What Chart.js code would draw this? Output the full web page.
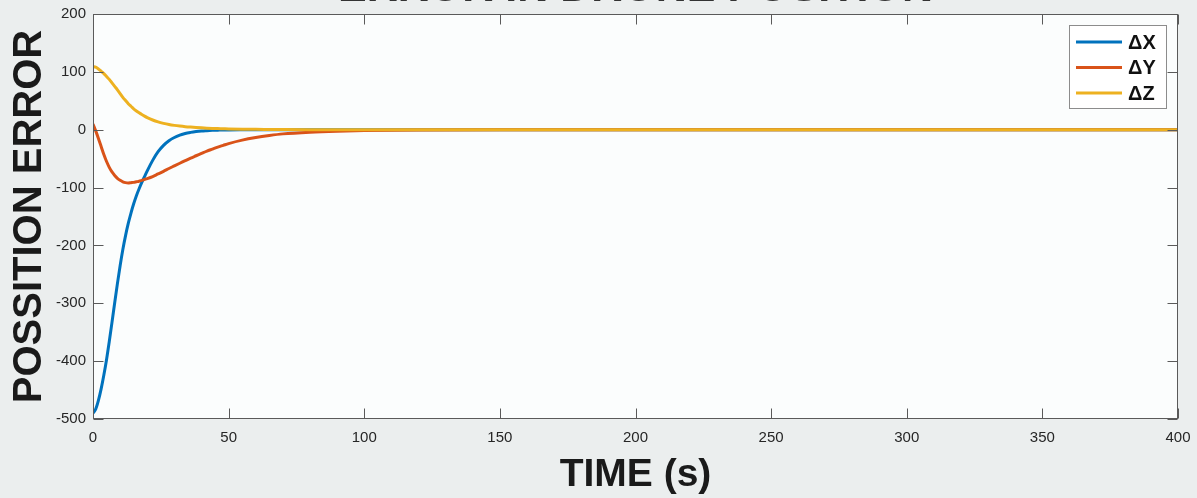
<!DOCTYPE html>
<html>
<head>
<meta charset="utf-8">
<script src="https://cdn.jsdelivr.net/npm/chart.js@4"></script>
<style>
  body { margin: 0; background: #ebeeee; }
  #wrap { width: 1197px; height: 498px; }
</style>
</head>
<body>
<div id="wrap"><canvas id="c" width="1197" height="498"></canvas></div>
<script>
// tiempos de muestreo (s)
const TIEMPO = [0, 1, 2, 3, 4, 5, 6, 7, 8, 9, 10, 11, 12, 13, 14, 15, 16, 17, 18, 19, 20,
  22, 24, 26, 28, 30, 32, 34, 36, 38, 40, 42, 44, 46, 48, 50,
  55, 60, 65, 70, 80, 90, 100, 120, 150, 200, 250, 300, 350, 400]
const ERR_X = [-490, -483, -468, -448, -424, -397, -366, -333, -299, -266, -235, -207, -183, -162, -144, -128, -114, -102, -91, -81, -71,
  -53, -38, -27, -19, -13.5, -9.5, -6.5, -4.6, -3.2, -2.2, -1.6, -1.1, -0.8, -0.5, -0.3,
  -0.1, 0, 0, 0, 0, 0, 0, 0, 0, 0, 0, 0, 0, 0]
const ERR_Y = [10, -2, -15, -29, -43, -55, -65, -73, -79, -84, -87.5, -90, -91.5, -92, -91.5, -91, -90, -89, -87.5, -86, -84.5,
  -81, -76.5, -72, -67, -62.5, -58, -53.5, -49, -45, -41, -37, -33.5, -30, -27, -24,
  -18, -13.5, -10, -7.2, -4.2, -2.5, -1.5, -0.5, 0, 0, 0, 0, 0, 0]
const ERR_Z = [109, 108, 105, 101, 97, 92, 87, 81, 75, 69, 62.5, 56, 50.5, 45, 40.5, 36, 32.5, 29.2, 26.2, 23.5, 21,
  16.8, 13.5, 11, 9, 7.5, 6.3, 5.3, 4.5, 3.8, 3.2, 2.7, 2.3, 2, 1.7, 1.4,
  0.9, 0.6, 0.4, 0.2, 0, 0, 0, 0, 0, 0, 0, 0, 0, 0]
const ETIQUETAS = ["\u0394X", "\u0394Y", "\u0394Z"]
const COLORES = ["#0072bd", "#d95319", "#edb120"]

const FUENTE = '"Liberation Sans", Arial, sans-serif'

function serie(valores) {
  return TIEMPO.map((t, i) => ({ x: t, y: valores[i] }))
}

// fondo del area, caja, ticks hacia adentro, titulos y leyenda estilo matlab
const estiloMatlab = {
  id: "estiloMatlab",
  beforeDraw(chart) {
    const ctx = chart.ctx
    const a = chart.chartArea
    ctx.save()
    ctx.fillStyle = "#fbfdfd"
    ctx.fillRect(a.left, a.top, a.right - a.left, a.bottom - a.top)
    ctx.restore()
  },
  afterDatasetsDraw(chart) {
    const ctx = chart.ctx
    const a = chart.chartArea
    const sx = chart.scales.x
    const sy = chart.scales.y
    const L = a.left + 0.5, R = a.right - 0.5, T = a.top + 0.5, B = a.bottom - 0.5
    ctx.save()
    ctx.strokeStyle = "#5a5a5a"
    ctx.lineWidth = 1
    ctx.strokeRect(L, T, R - L, B - T)
    ctx.beginPath()
    for (let tk of sx.ticks) {
      let px = Math.round(sx.getPixelForValue(tk.value)) + 0.5
      ctx.moveTo(px, B); ctx.lineTo(px, B - 10)
      ctx.moveTo(px, T); ctx.lineTo(px, T + 10)
    }
    for (let tk of sy.ticks) {
      let py = Math.round(sy.getPixelForValue(tk.value)) + 0.5
      ctx.moveTo(L, py); ctx.lineTo(L + 10, py)
      ctx.moveTo(R, py); ctx.lineTo(R - 10, py)
    }
    ctx.stroke()

    // leyenda
    const lx = 1069.5, ly = 25.5, lw = 97, lh = 83
    ctx.fillStyle = "#ffffff"
    ctx.fillRect(lx, ly, lw, lh)
    ctx.strokeStyle = "#8c8c8c"
    ctx.strokeRect(lx, ly, lw, lh)
    chart.data.datasets.forEach((ds, i) => {
      let y = 42 + i * 25.5
      ctx.strokeStyle = ds.borderColor
      ctx.lineWidth = 3
      ctx.beginPath()
      ctx.moveTo(1076, y); ctx.lineTo(1122, y)
      ctx.stroke()
      ctx.fillStyle = "#111111"
      ctx.font = "bold 20px " + FUENTE
      ctx.textBaseline = "middle"
      ctx.textAlign = "left"
      ctx.fillText(ds.label, 1128, y + 1)
    })
    ctx.restore()
  },
  afterDraw(chart) {
    const ctx = chart.ctx
    const a = chart.chartArea
    const cx = (a.left + a.right) / 2
    ctx.save()
    ctx.fillStyle = "#333333"
    ctx.textAlign = "center"
    // titulo casi cortado arriba
    ctx.font = "bold 43px " + FUENTE
    ctx.textBaseline = "alphabetic"
    ctx.fillText("ERROR IN DRONE POSITION", cx, 1)
    // titulo eje x
    ctx.fillStyle = "#1a1a1a"
    ctx.font = "bold 39px " + FUENTE
    ctx.textBaseline = "middle"
    ctx.fillText("TIME (s)", cx, 475)
    // titulo eje y
    ctx.translate(29, (a.top + a.bottom) / 2)
    ctx.rotate(-Math.PI / 2)
    ctx.font = "bold 40px " + FUENTE
    ctx.fillText("POSSITION ERROR", 0, 1)
    ctx.restore()
  }
}

document.addEventListener("DOMContentLoaded", () => {
  const ctx = document.getElementById("c").getContext("2d")
  new Chart(ctx, {
    type: "line",
    data: {
      datasets: [
        { label: ETIQUETAS[0], data: serie(ERR_X), borderColor: COLORES[0], order: 2 },
        { label: ETIQUETAS[1], data: serie(ERR_Y), borderColor: COLORES[1], order: 1 },
        { label: ETIQUETAS[2], data: serie(ERR_Z), borderColor: COLORES[2], order: 0 }
      ]
    },
    options: {
      responsive: false,
      animation: false,
      layout: { padding: { left: 0, right: 19, top: 14, bottom: 0 } },
      elements: {
        point: { radius: 0 },
        line: { borderWidth: 3, cubicInterpolationMode: "monotone", fill: false }
      },
      plugins: {
        legend: { display: false },
        tooltip: { enabled: false }
      },
      scales: {
        x: {
          type: "linear",
          min: 0,
          max: 400,
          grid: { display: false, drawTicks: false },
          border: { display: false },
          ticks: { stepSize: 50, padding: 10, color: "#262626", font: { family: FUENTE, size: 15 } },
          afterFit(scale) {
            scale.height = 79
            scale.paddingLeft = 0
            scale.paddingRight = 0
          }
        },
        y: {
          min: -500,
          max: 200,
          grid: { display: false, drawTicks: false },
          border: { display: false },
          ticks: { stepSize: 100, padding: 7, color: "#262626", font: { family: FUENTE, size: 15 } },
          afterFit(scale) {
            scale.width = 93
            scale.paddingTop = 0
            scale.paddingBottom = 0
          }
        }
      }
    },
    plugins: [estiloMatlab]
  })
})
</script>
</body>
</html>
